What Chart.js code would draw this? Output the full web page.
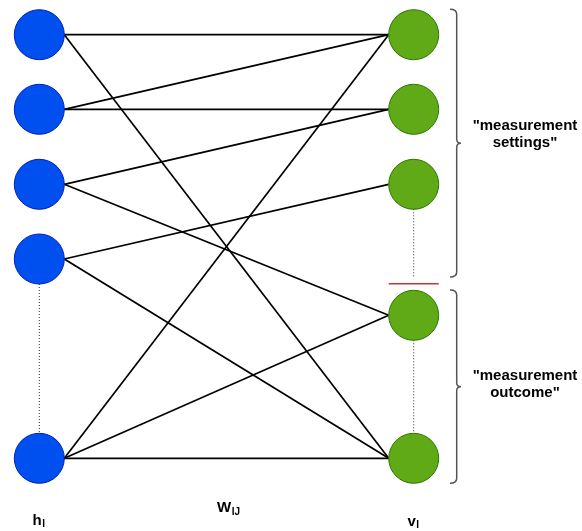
<!DOCTYPE html>
<html>
<head>
<meta charset="utf-8">
<script src="https://cdn.jsdelivr.net/npm/chart.js@4.4.1/dist/chart.umd.min.js"></script>
<style>
  body { margin: 0; background: #fff; }
  canvas { display: block; }
</style>
</head>
<body>
<canvas id="rbm" width="582" height="531"></canvas>
<script>
// units of the two layers
const hiddenUnits = ["h1", "h2", "h3", "h4", "hN"];
const visibleUnits = ["v1", "v2", "v3", "v4", "vN"];
// weights W_IJ as [hidden index, visible index]
const weights = [
  [0, 0], [0, 4],
  [1, 0], [1, 1],
  [2, 1], [2, 3],
  [3, 2], [3, 4],
  [4, 0], [4, 3], [4, 4],
];
// groups of visible units
const groupLabels = [["\"measurement", "settings\""], ["\"measurement", "outcome\""]];
const groupUnits = [[0, 2], [3, 4]];
const layerNames = ["h", "W", "v"];
const layerSubs = ["I", "IJ", "I"];

// layout (pixels in the 582x531 picture)
const R = 25;
const hiddenX = 39.3, visibleX = 413.7;
const hiddenY = [34.7, 109.3, 184.3, 259, 458.3];
const visibleY = [34.7, 109.3, 184.3, 315.3, 458.3];
const braceEnds = [[9.3, 277], [290, 483.3]];
const groupTextY = [[126, 143], [375.5, 392.5]];

const datasets = [];

// edges
weights.forEach(([i, j]) => {
  datasets.push({
    type: "scatter",
    showLine: true,
    data: [{ x: hiddenX + R, y: hiddenY[i] }, { x: visibleX - R, y: visibleY[j] }],
    borderColor: "#000",
    borderWidth: 1.7,
    pointRadius: 0,
    order: 2,
  });
});

// dotted "and so on" lines
const dotted = [
  [hiddenX, hiddenY[3] + R, hiddenY[4] - R],
  [visibleX, visibleY[2] + R, 278],
  [visibleX, visibleY[3] + R, visibleY[4] - R],
];
dotted.forEach(([x, y0, y1]) => {
  datasets.push({
    type: "scatter",
    showLine: true,
    data: [{ x, y: y0 }, { x, y: y1 }],
    borderColor: "#333",
    borderWidth: 1,
    borderDash: [1, 2],
    pointRadius: 0,
    order: 2,
  });
});

// separator between the groups
datasets.push({
  type: "scatter",
  showLine: true,
  data: [{ x: visibleX - R, y: 283.7 }, { x: visibleX + R, y: 283.7 }],
  borderColor: "#cc3333",
  borderWidth: 1.5,
  pointRadius: 0,
  order: 2,
});

// nodes
datasets.push({
  type: "scatter",
  label: "hidden",
  data: hiddenUnits.map((u, i) => ({ x: hiddenX, y: hiddenY[i] })),
  pointRadius: R,
  backgroundColor: "#0050ef",
  borderColor: "#001dbc",
  borderWidth: 1,
  order: 0,
});
datasets.push({
  type: "scatter",
  label: "visible",
  data: visibleUnits.map((u, i) => ({ x: visibleX, y: visibleY[i] })),
  pointRadius: R,
  backgroundColor: "#60a917",
  borderColor: "#2d7600",
  borderWidth: 1,
  order: 0,
});

// braces + texts
const annotations = {
  id: "annotations",
  afterDatasetsDraw(chart) {
    const { ctx, scales } = chart;
    const px = (v) => scales.x.getPixelForValue(v);
    const py = (v) => scales.y.getPixelForValue(v);
    ctx.save();

    groupUnits.forEach((g, k) => {
      const [top, bot] = braceEnds[k];
      const mid = (top + bot) / 2;
      const bx = px(456.7);
      ctx.strokeStyle = "#555";
      ctx.lineWidth = 1.5;
      ctx.beginPath();
      ctx.moveTo(px(450), py(top));
      ctx.quadraticCurveTo(bx, py(top), bx, py(top + 5));
      ctx.lineTo(bx, py(mid - 4));
      ctx.quadraticCurveTo(bx, py(mid), px(461), py(mid));
      ctx.quadraticCurveTo(bx, py(mid), bx, py(mid + 4));
      ctx.lineTo(bx, py(bot - 5));
      ctx.quadraticCurveTo(bx, py(bot), px(450), py(bot));
      ctx.stroke();

      ctx.fillStyle = "#000";
      ctx.font = "bold 15px 'Liberation Sans', Arial, sans-serif";
      ctx.textAlign = "center";
      ctx.textBaseline = "middle";
      groupLabels[k].forEach((line, n) => {
        ctx.fillText(line, px(525), py(groupTextY[k][n]));
      });
    });

    // layer names with subscripts
    const nameX = [32.5, 217, 407.5];
    const nameY = [520.5, 508, 521.5];
    layerNames.forEach((name, k) => {
      ctx.textAlign = "left";
      ctx.textBaseline = "middle";
      ctx.font = "bold 15px 'Liberation Sans', Arial, sans-serif";
      const w = ctx.measureText(name).width;
      ctx.fillText(name, px(nameX[k]), py(nameY[k]));
      ctx.font = "bold 10px 'Liberation Sans', Arial, sans-serif";
      ctx.fillText(layerSubs[k], px(nameX[k]) + w + 0.5, py(nameY[k] + 4));
    });
    ctx.restore();
  },
};

new Chart(document.getElementById("rbm"), {
  type: "scatter",
  data: { datasets },
  options: {
    responsive: false,
    animation: false,
    layout: { padding: 0, autoPadding: false },
    scales: {
      x: { type: "linear", min: 0, max: 582, display: false },
      y: { type: "linear", min: 0, max: 531, reverse: true, display: false },
    },
    plugins: { legend: { display: false }, tooltip: { enabled: false } },
  },
  plugins: [annotations],
});
</script>
</body>
</html>
